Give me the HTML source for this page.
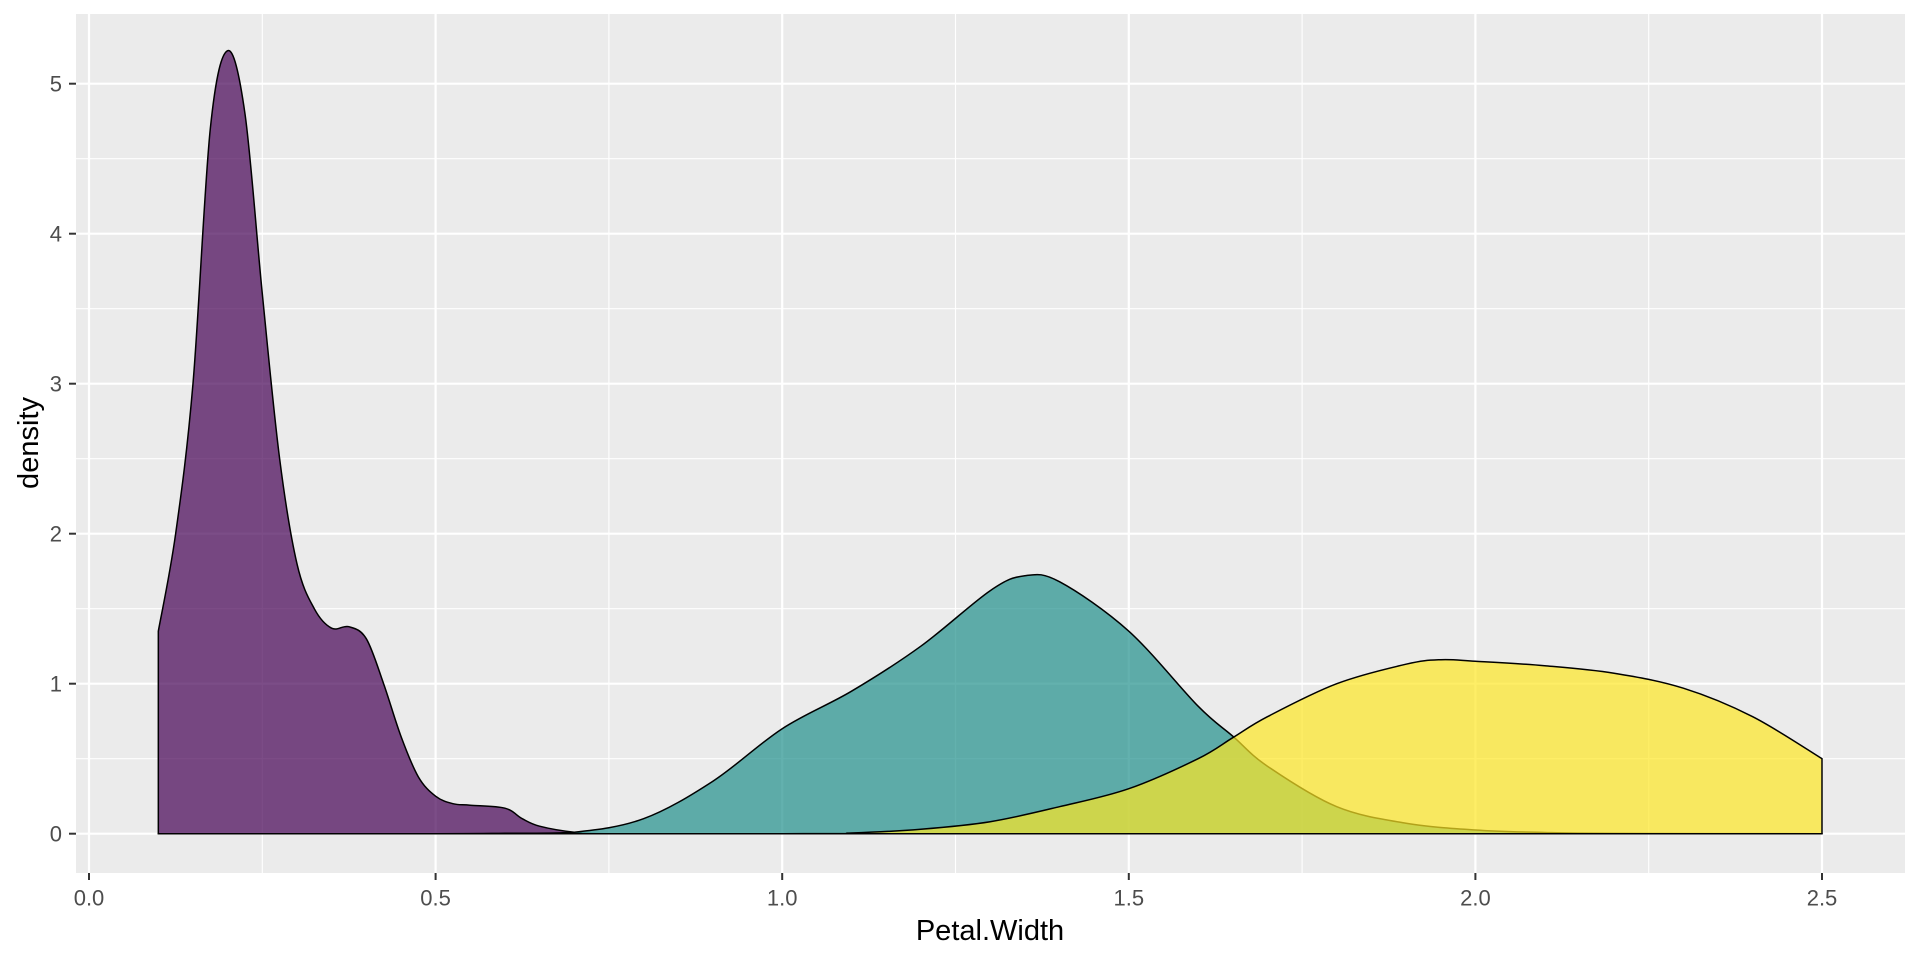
<!DOCTYPE html>
<html><head><meta charset="utf-8"><style>
body{margin:0;background:#fff;}
svg text{font-family:"Liberation Sans",Arial,sans-serif;}
</style></head><body>
<svg id="chart" width="1920" height="960" xmlns="http://www.w3.org/2000/svg">
<rect x="76" y="14" width="1829" height="859" fill="#EBEBEB"/>
<g id="grid"></g><g id="areas"></g><g id="axes"></g>
<text x="990" y="940" font-size="29" text-anchor="middle" fill="#000">Petal.Width</text>
<text transform="translate(38,443) rotate(-90)" font-size="29" text-anchor="middle" fill="#000">density</text>
</svg>
<script>
const xTicks=[0,0.5,1.0,1.5,2.0,2.5];
const xTickLabels=["0.0","0.5","1.0","1.5","2.0","2.5"];
const yTicks=[0,1,2,3,4,5];
const yTickLabels=["0","1","2","3","4","5"];
const setosaX=[0.1,0.125,0.15,0.175,0.2,0.225,0.25,0.275,0.3,0.325,0.35,0.375,0.4,0.425,0.45,0.475,0.5,0.525,0.55,0.6,0.625,0.65,0.7,0.75,1.0,2.5];
const setosaY=[1.35,2.0,3.0,4.7,5.22,4.8,3.6,2.5,1.8,1.5,1.37,1.38,1.3,1.0,0.65,0.38,0.25,0.2,0.19,0.17,0.1,0.05,0.01,0,0,0];
const versicolorX=[0.1,0.5,0.6,0.7,0.8,0.9,1.0,1.1,1.2,1.3,1.35,1.4,1.5,1.6,1.65,1.7,1.8,1.9,2.0,2.1,2.2,2.5];
const versicolorY=[0,0,0.003,0.01,0.1,0.35,0.7,0.95,1.25,1.62,1.72,1.68,1.35,0.85,0.65,0.45,0.18,0.07,0.025,0.008,0.002,0];
const virginicaX=[0.1,1.0,1.1,1.2,1.3,1.4,1.5,1.6,1.65,1.7,1.8,1.9,1.95,2.0,2.1,2.2,2.3,2.4,2.5];
const virginicaY=[0,0,0.005,0.03,0.08,0.18,0.3,0.5,0.64,0.78,1.0,1.13,1.16,1.15,1.12,1.07,0.97,0.78,0.5];
const sx=v=>89+v*693.2, sy=v=>833.7-v*150;
const NS="http://www.w3.org/2000/svg";
const L=76,R=1905,T=14,B=873;
function mk(tag,attrs,parent){const e=document.createElementNS(NS,tag);for(const k in attrs)e.setAttribute(k,attrs[k]);parent.appendChild(e);return e;}
const grid=document.getElementById('grid'),axes=document.getElementById('axes'),areas=document.getElementById('areas');
for(let i=0;i<xTicks.length-1;i++){const m=(xTicks[i]+xTicks[i+1])/2;const g=mk('line',{x1:sx(m),x2:sx(m),y1:T,y2:B,stroke:'#fff','stroke-width':1.1},grid);

}
for(let i=0;i<yTicks.length;i++){const m=yTicks[i]+0.5;const g=mk('line',{x1:L,x2:R,y1:sy(m),y2:sy(m),stroke:'#fff','stroke-width':1.1},grid);

}
xTicks.forEach((v,i)=>{const g=mk('line',{x1:sx(v),x2:sx(v),y1:T,y2:B,stroke:'#fff','stroke-width':2.2},grid);


const t=mk('line',{x1:sx(v),x2:sx(v),y1:B,y2:B+7,stroke:'#333','stroke-width':2},axes);


const tx=mk('text',{x:sx(v),y:905.5,'font-size':22,'text-anchor':'middle',fill:'#4D4D4D'},axes);tx.textContent=xTickLabels[i];

});
yTicks.forEach((v,i)=>{const g=mk('line',{x1:L,x2:R,y1:sy(v),y2:sy(v),stroke:'#fff','stroke-width':2.2},grid);


const t=mk('line',{x1:L-7,x2:L,y1:sy(v),y2:sy(v),stroke:'#333','stroke-width':2},axes);


const tx=mk('text',{x:62,y:sy(v)+8,'font-size':22,'text-anchor':'end',fill:'#4D4D4D'},axes);tx.textContent=yTickLabels[i];

});
function pathFor(xs,ys){const p=xs.map((x,i)=>[sx(x),sy(ys[i])]);let d=`M${sx(xs[0])},${sy(0)} L${p[0][0]},${p[0][1]}`;
for(let i=0;i<p.length-1;i++){const p0=p[Math.max(0,i-1)],p1=p[i],p2=p[i+1],p3=p[Math.min(p.length-1,i+2)];
let c1y=p1[1]+(p2[1]-p0[1])/6,c2y=p2[1]-(p3[1]-p1[1])/6;const lo=sy(0);c1y=Math.min(c1y,lo);c2y=Math.min(c2y,lo);
d+=` C${p1[0]+(p2[0]-p0[0])/6},${c1y} ${p2[0]-(p3[0]-p1[0])/6},${c2y} ${p2[0]},${p2[1]}`;}
d+=` L${sx(xs[xs.length-1])},${sy(0)} Z`;return d;}
const series=[[setosaX,setosaY,'#440154','setosa-density'],[versicolorX,versicolorY,'#21908C','versicolor-density'],[virginicaX,virginicaY,'#FDE725','virginica-density']];
series.forEach(s=>{const e=mk('path',{d:pathFor(s[0],s[1]),fill:s[2],'fill-opacity':0.7,stroke:'#000','stroke-width':1.5,'stroke-linejoin':'round'},areas);

});
</script>
</body></html>
